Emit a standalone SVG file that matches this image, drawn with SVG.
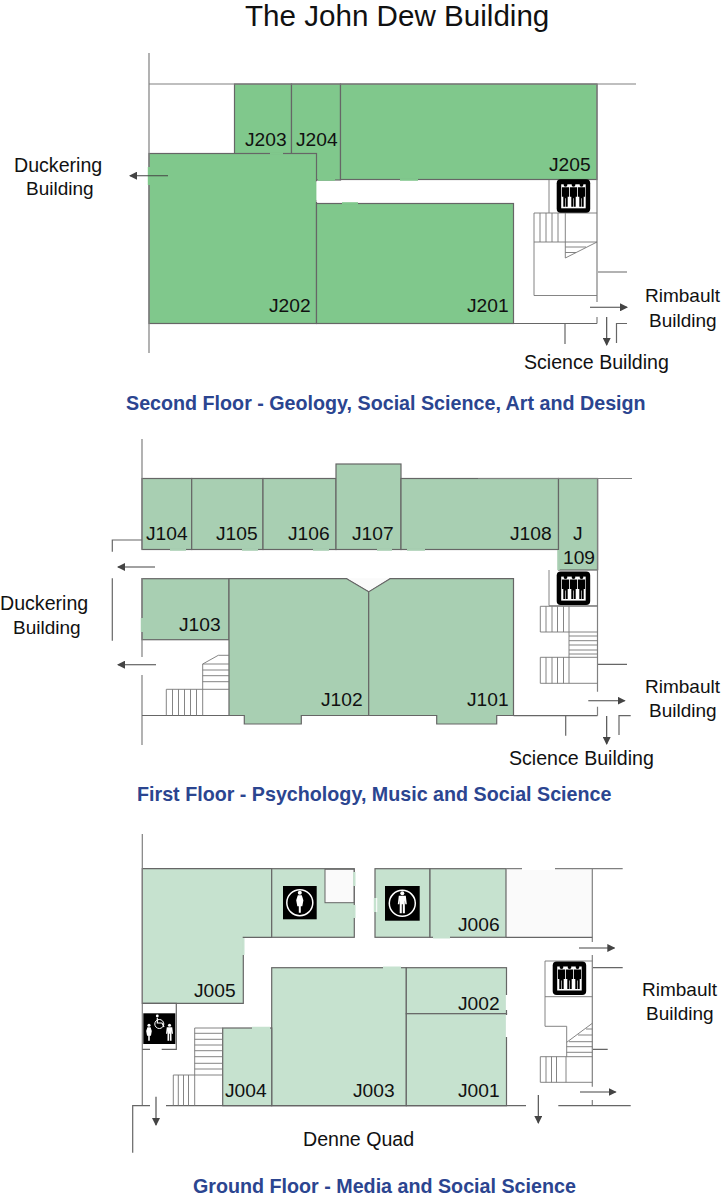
<svg xmlns="http://www.w3.org/2000/svg" xmlns:xlink="http://www.w3.org/1999/xlink" width="723" height="1200" viewBox="0 0 723 1200">
<style>
text{font-family:"Liberation Sans",Arial,sans-serif;fill:#111}
.t{font-size:29.600px}
.l{font-size:19.200px}
.n{font-size:19.600px}
.r{font-size:19px}
.h{font-size:19.700px;font-weight:bold;fill:#2b4590}
.w{fill:none;stroke:#666;stroke-width:1.2}
.o{fill:none;stroke:#808080;stroke-width:1.2}
.s{fill:none;stroke:#777;stroke-width:.9}
.a{fill:none;stroke:#444;stroke-width:1.1}
.g2{fill:#80c88c;stroke:#666;stroke-width:1.2}
.g1{fill:#a8cfb2;stroke:#666;stroke-width:1.2}
.g0{fill:#c6e2cf;stroke:#666;stroke-width:1.2}
.d2{fill:none;stroke:#80c88c;stroke-width:2.4}
.d1{fill:none;stroke:#a8cfb2;stroke-width:2.4}
.d0{fill:none;stroke:#c6e2cf;stroke-width:2.4}
.dw{fill:none;stroke:#fff;stroke-width:2.4}
</style>
<defs>
<marker id="ah" markerWidth="8" markerHeight="8" refX="7" refY="4" orient="auto" markerUnits="userSpaceOnUse"><path d="M0 0L8 4L0 8Z" fill="#444"/></marker>
<g id="man"><circle cx="0" cy="-11" r="1.9"/><path d="M-3.600-8.500H3.600V1H2.200V11H.3V2.500H-.3V11H-2.200V1H-3.600Z"/></g>
<g id="lift"><rect x="0" y="0" width="33.500" height="33.500" rx="4" fill="#000"/><rect x="4.500" y="5" width="24.500" height="24" fill="#fff"/><use xlink:href="#man" x="8.800" y="16.500"/><use xlink:href="#man" x="16.800" y="16.500"/><use xlink:href="#man" x="24.800" y="16.500"/></g>
<g id="fem" fill="#fff"><circle cx="0" cy="-10" r="2"/><path d="M-2-7.500H2L3.600-2.500 2.500 3.500H1V10H-1V3.500H-2.500L-3.600-2.500Z"/></g>
<g id="male" fill="#fff"><circle cx="0" cy="-10" r="2"/><path d="M-3.500-7.500H3.500L4.500 1H3L2.500-3 2.600 10H.5V1H-.5V10H-2.600L-2.500-3-3 1H-4.500Z"/></g>
</defs>
<text class="t" x="245" y="26">The John Dew Building</text>

<g id="second-floor">
<g id="J203"><rect class="g2" x="234.500" y="84" width="57" height="96"/><text class="l" x="245" y="146">J203</text></g>
<g id="J204"><rect class="g2" x="291.500" y="84" width="49" height="96"/><text class="l" x="296" y="146">J204</text></g>
<g id="J205"><rect class="g2" x="340.500" y="84" width="256.500" height="95.500"/><text class="l" x="549" y="171">J205</text></g>
<g id="J202"><rect class="g2" x="149" y="153.500" width="167.500" height="170"/><text class="l" x="269" y="312">J202</text></g>
<g id="J201"><rect class="g2" x="316.500" y="203.500" width="197" height="120"/><text class="l" x="467" y="312">J201</text></g>
<path class="d2" d="M270 153.500H283M149 167V185M316.500 182V200M318 179.500H335M400 179.500H418M342 203.500H358"/>
<path class="dw" d="M317.600 181V202"/>
<path class="o" d="M149 53V167M149 185V353M149 84H636M597 84V302M597 317V323.500"/>
<g class="s"><path d="M549 180V213M534 213H597M534 213V295.500H597M534 242H597M540 213V242M546 213V242M552 213V242M558 213V242M565.300 213V258L597 242M565.300 247H586M565.300 252.500H576"/></g>
<path class="w" d="M598 272H627M513.500 323.500H597M565 323.500V344M616.500 343V323.500H627"/>
<use xlink:href="#lift" x="556.700" y="179.300"/>
<g class="a"><path marker-end="url(#ah)" d="M168 175.700H130"/><path marker-end="url(#ah)" d="M590 307.300H627"/><path marker-end="url(#ah)" d="M606.700 317V345"/></g>
<text class="n" x="14" y="172">Duckering</text><text class="r" x="26" y="195">Building</text>
<text class="r" x="645" y="302">Rimbault</text><text class="r" x="649" y="327">Building</text>
<text class="n" x="524" y="369">Science Building</text>
<text class="h" x="126" y="410">Second Floor - Geology, Social Science, Art and Design</text>
</g>

<g id="first-floor">
<g id="J104"><rect class="g1" x="142" y="478.500" width="49.700" height="71"/><text class="l" x="146" y="540">J104</text></g>
<g id="J105"><rect class="g1" x="191.700" y="478.500" width="71.300" height="71"/><text class="l" x="216" y="540">J105</text></g>
<g id="J106"><rect class="g1" x="263" y="478.500" width="73" height="71"/><text class="l" x="288" y="540">J106</text></g>
<g id="J107"><rect class="g1" x="336" y="464" width="65" height="85.500"/><text class="l" x="352" y="540">J107</text></g>
<g id="J108"><rect class="g1" x="401" y="478.500" width="157.500" height="71"/><text class="l" x="510" y="540">J108</text></g>
<g id="J109"><rect class="g1" x="558.500" y="478.500" width="39" height="91.500"/><text class="l" x="573" y="540">J</text><text class="l" x="563" y="564">109</text></g>
<g id="J103"><rect class="g1" x="142" y="578.700" width="87" height="61"/><text class="l" x="179" y="631">J103</text></g>
<g id="J102"><path class="g1" d="M229 578.700H346.700L368.700 591.700V715.500H301.300V724H244.300V715.500H229Z"/><text class="l" x="321" y="706">J102</text></g>
<g id="J101"><path class="g1" d="M368.700 591.700L390 578.700H513.500V715.500H496.700V724H436.700V715.500H368.700Z"/><text class="l" x="467" y="706">J101</text></g>
<path fill="#fafafa" d="M347.500 578.200H389L368.700 590.700Z"/>
<path class="d1" d="M170 549.500H186M242 549.500H258M313 549.500H329M377 549.500H392M407 549.500H425"/>
<path class="d1" d="M142 618V632M558.500 550V570"/>
<path class="o" d="M142 439V549.500M142 578V618M142 632V657M142 675V745M478 478.500H632"/>
<path class="w" d="M142 715.500H229M112.300 551.700V540H142M112.300 578.300V640.700M513.500 715.700H597.500M565.700 715.700V735.700M619 735V715.700H630.700M598 664.300H627"/>
<path class="o" d="M597.700 478.500V570M597.500 570V691.700M597.500 706.700V715.700"/>
<g class="s">
<path d="M202.700 715.500V664L218.300 655.300H229M202.700 664H229M202.700 670H229M202.700 675.700H229M202.700 681.700H229M202.700 689.300H229M166.300 689.300H202.700M166.300 689.300V715.500M172.500 689.300V715.500M178.500 689.300V715.500M184.500 689.300V715.500M190.500 689.300V715.500M196.500 689.300V715.500"/>
<path d="M549 570V605.700H597.500M540.300 606.300H597.500M540.300 606.300V632H597.500M546 606.300V632M552 606.300V632M557.500 606.300V632M563.500 606.300V632M569 606.300V683.300M569 636H597.500M569 640.700H597.500M569 645H597.500M569 650H597.500M569 654H597.500M540.300 657.300H597.500M540.300 657.300V683.300H597.500M546 657.300V683.300M552 657.300V683.300M557.500 657.300V683.300M563.500 657.300V683.300"/>
</g>
<use xlink:href="#lift" x="556.700" y="571.600"/>
<g class="a"><path marker-end="url(#ah)" d="M155 567H118"/><path marker-end="url(#ah)" d="M156 664.700H118"/><path marker-end="url(#ah)" d="M588.300 700.700H624.700"/><path marker-end="url(#ah)" d="M606.700 716V744"/></g>
<text class="n" x="0" y="610">Duckering</text><text class="r" x="13" y="634">Building</text>
<text class="r" x="645" y="693">Rimbault</text><text class="r" x="649" y="717">Building</text>
<text class="n" x="509" y="765">Science Building</text>
<text class="h" x="137" y="801">First Floor - Psychology, Music and Social Science</text>
</g>

<g id="ground-floor">
<g id="J005"><path class="g0" d="M142.300 868.700H271.700V937.300H243.300V1003.300H142.300Z"/><text class="l" x="194" y="997">J005</text></g>
<g id="toilet-f"><rect class="g0" x="271.700" y="868.700" width="82.600" height="68.600"/><rect x="325" y="869.300" width="29" height="33.400" fill="#fafafa" stroke="#666" stroke-width="1"/></g>
<g id="toilet-m"><rect class="g0" x="375" y="868.700" width="55" height="68.600"/></g>
<g id="J006"><rect class="g0" x="430" y="868.700" width="76" height="68.600"/><text class="l" x="458" y="931">J006</text></g>
<rect x="507" y="869.500" width="85" height="67" fill="#fafafa"/>
<g id="J003"><rect class="g0" x="271.700" y="967.700" width="134.600" height="138"/><text class="l" x="353" y="1097">J003</text></g>
<g id="J002"><rect class="g0" x="406.300" y="967.700" width="100.200" height="46"/><text class="l" x="458" y="1010">J002</text></g>
<g id="J001"><rect class="g0" x="406.300" y="1013.700" width="100.200" height="92"/><text class="l" x="458" y="1097">J001</text></g>
<g id="J004"><rect class="g0" x="222.700" y="1028" width="49" height="77.700"/><text class="l" x="225" y="1097">J004</text></g>
<path class="dw" d="M355 872V886M355 905V918M376 898V912M244 938V955M522 868.700H555"/>
<path class="d0" d="M354.300 872V886M354.300 905V918M375 898V912M243.300 938V955M383 967.700H401M252 1028H270M433 937.300H450M506.500 995V1010M506.500 1015V1037"/>
<path class="dw" d="M507 995V1010M507 1015V1037"/>
<path class="o" d="M142.300 834V1105.700M592.300 868.700V942M506 868.700H522M555 868.700H622.700M592.300 955V1086.700M592.300 1100V1105.700"/>
<path class="w" d="M506 937.300H592.300M593 967.700H622.700M593 1049.300H607.700M132.700 1152.700V1105.700H150M166 1105.700H526M558.300 1105.700H630.700M142.300 1003.300H176.300V1049.300H161.700M150 1049.300H142.300"/>
<g class="s">
<path d="M194.700 1105.700V1028H222.700M194.700 1033.300H222.700M194.700 1039.300H222.700M194.700 1045H222.700M194.700 1050.700H222.700M194.700 1056.700H222.700M194.700 1063.300H222.700M194.700 1069H222.700M173.300 1075H222.700M173.300 1075V1105.700M178.300 1075V1105.700M183.500 1075V1105.700M188.500 1075V1105.700"/>
<path d="M592.300 961H545V1026.300H566.700V1056.700M545 996.700H592.300M566.700 1042.300L592.300 1023.300M586 1029H592.300M578 1035H592.300M569 1041.700H592.300M566.700 1046.700H592.300M566.700 1052.300H592.300M540.300 1056.700H592.300M540.300 1056.700V1082.300H592.300M546 1056.700V1082.300M551.500 1056.700V1082.300M556.500 1056.700V1082.300M566 1056.700V1082.300"/>
</g>
<use xlink:href="#lift" x="552.700" y="961.500"/>
<g id="sign-f"><rect x="283" y="886" width="33.700" height="33.300" fill="#000"/><circle cx="299.800" cy="902.700" r="13" fill="none" stroke="#fff" stroke-width="1.500"/><use xlink:href="#fem" x="299.800" y="902.700"/></g>
<g id="sign-m"><rect x="385" y="886" width="34.700" height="34.700" fill="#000"/><circle cx="402.300" cy="903.300" r="13" fill="none" stroke="#fff" stroke-width="1.500"/><use xlink:href="#male" x="402.300" y="903.300"/></g>
<g id="sign-wc"><rect x="143.300" y="1013.300" width="32" height="30.700" fill="#000"/><use xlink:href="#fem" transform="translate(149 1033) scale(.78)"/><use xlink:href="#male" transform="translate(169.500 1033) scale(.78)"/><circle cx="157.300" cy="1016" r="1.400" fill="#fff"/><circle cx="159.300" cy="1024" r="4.500" fill="none" stroke="#fff" stroke-width="1"/><path d="M157.300 1018V1023H162L164 1027" fill="none" stroke="#fff" stroke-width="1.200"/></g>
<g class="a"><path marker-end="url(#ah)" d="M156 1096.700V1125"/><path marker-end="url(#ah)" d="M538.300 1095V1123"/><path marker-end="url(#ah)" d="M579 948H614.300"/><path marker-end="url(#ah)" d="M580 1092H615.700"/></g>
<text class="r" x="642" y="996">Rimbault</text><text class="r" x="646" y="1020">Building</text>
<text class="n" x="303" y="1146">Denne Quad</text>
<text class="h" x="193" y="1193">Ground Floor - Media and Social Science</text>
</g>
</svg>
